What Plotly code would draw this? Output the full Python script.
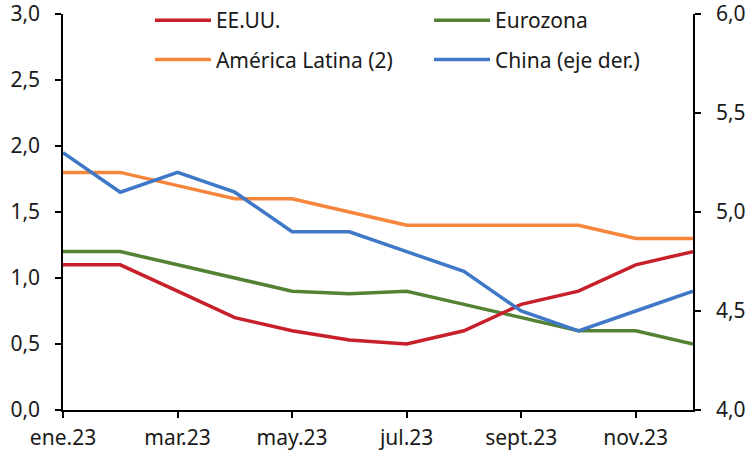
import plotly.graph_objects as go

months = ["ene.23", "feb.23", "mar.23", "abr.23", "may.23", "jun.23",
          "jul.23", "ago.23", "sept.23", "oct.23", "nov.23", "dic.23"]
tick_labels = ["ene.23", "mar.23", "may.23", "jul.23", "sept.23", "nov.23"]

eeuu = [1.1, 1.1, 0.9, 0.7, 0.6, 0.53, 0.5, 0.6, 0.8, 0.9, 1.1, 1.2]
eurozona = [1.2, 1.2, 1.1, 1.0, 0.9, 0.88, 0.9, 0.8, 0.7, 0.6, 0.6, 0.5]
america_latina = [1.8, 1.8, 1.7, 1.6, 1.6, 1.5, 1.4, 1.4, 1.4, 1.4, 1.3, 1.3]
china = [5.3, 5.1, 5.2, 5.1, 4.9, 4.9, 4.8, 4.7, 4.5, 4.4, 4.5, 4.6]

FONT = "Noto Sans"
fs = 21
lw = 3.5

fig = go.Figure()
fig.add_trace(go.Scatter(x=months, y=america_latina, name="América Latina (2)", mode="lines",
                         line=dict(color="#F5863B", width=lw), legend="legend", legendgroup="b", legendrank=2))
fig.add_trace(go.Scatter(x=months, y=eurozona, name="Eurozona", mode="lines",
                         line=dict(color="#548235", width=lw), legend="legend2", legendgroup="c", legendrank=1))
fig.add_trace(go.Scatter(x=months, y=eeuu, name="EE.UU.", mode="lines",
                         line=dict(color="#C8202A", width=lw), legend="legend", legendgroup="a", legendrank=1))
fig.add_trace(go.Scatter(x=months, y=china, name="China (eje der.)", mode="lines",
                         line=dict(color="#3E78C6", width=lw), yaxis="y2", legend="legend2", legendgroup="d", legendrank=2))

axis_common = dict(showline=True, linecolor="black", linewidth=1.5, ticks="outside", ticklen=6,
                   tickcolor="black", tickwidth=1.5, showgrid=False, zeroline=False, automargin=False,
                   ticklabeloverflow="allow")

fig.update_layout(
    width=747, height=451,
    margin=dict(l=63, r=54, t=14, b=41, autoexpand=False),
    paper_bgcolor="white", plot_bgcolor="white",
    font=dict(family=FONT, size=fs, color="#1a1a1a"),
    separators=",.",
    showlegend=True,
    legend=dict(x=0.138, y=1.035, xanchor="left", yanchor="top", bgcolor="rgba(0,0,0,0)",
                tracegroupgap=9, font=dict(size=fs), traceorder="grouped", itemwidth=56),
    legend2=dict(x=0.581, y=1.035, xanchor="left", yanchor="top", bgcolor="rgba(0,0,0,0)",
                 tracegroupgap=9, font=dict(size=fs), traceorder="grouped", itemwidth=56),
    xaxis=dict(type="category", range=[0, 11], tickmode="array", tickvals=tick_labels,
               ticktext=tick_labels, ticklabelstandoff=2, **axis_common),
    yaxis=dict(range=[0, 3], tickmode="linear", tick0=0, dtick=0.5, tickformat=".1f",
               ticklabelstandoff=11, **axis_common),
    yaxis2=dict(range=[4, 6], tickmode="linear", tick0=4, dtick=0.5, tickformat=".1f",
                overlaying="y", side="right", ticklabelstandoff=11, **axis_common),
)

fig.write_html("out.html", config={"displayModeBar": False},
               post_script="document.body.style.margin='0';document.body.style.overflow='hidden';")
